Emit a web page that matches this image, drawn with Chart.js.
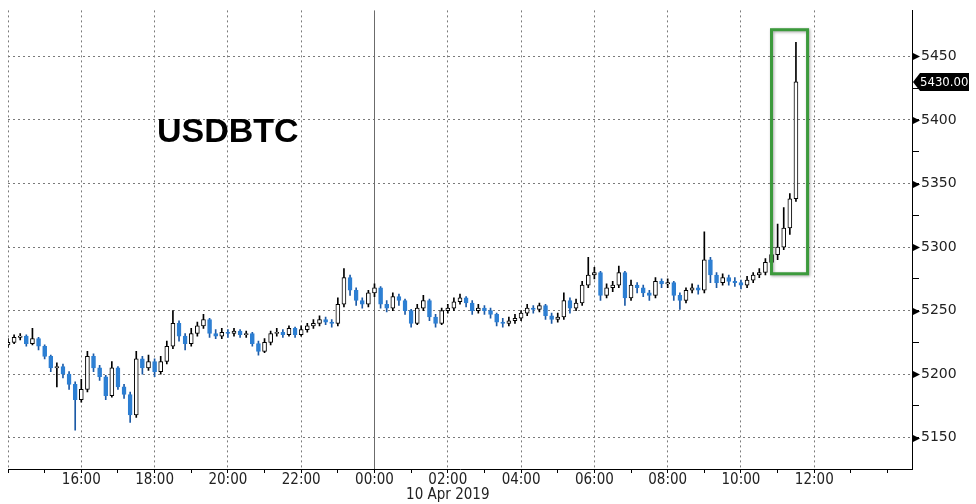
<!DOCTYPE html>
<html>
<head>
<meta charset="utf-8">
<title>USDBTC</title>
<script src="https://cdn.jsdelivr.net/npm/chart.js@4/dist/chart.umd.min.js"></script>
<style>
  html, body { margin: 0; padding: 0; background: #fff; }
  #wrap { width: 976px; height: 504px; }
</style>
</head>
<body>
<div id="wrap"><canvas id="btcChart" width="976" height="504"></canvas></div>
<script>
// 10-minute slots from 14:00 on 9 Apr to 14:40 on 10 Apr 2019
const startHour = 14;
const slotMinutes = 10;
const slotCount = 149;

const hourLabels = ['16:00', '18:00', '20:00', '22:00', '00:00', '02:00',
                    '04:00', '06:00', '08:00', '10:00', '12:00'];
const dateLabel = '10 Apr 2019';
const chartTitle = 'USDBTC';
const lastPrice = 5430.00;

// candles (open of each candle = previous close)
const firstOpen = 5223;
const closes = [
  5225, 5229, 5230, 5224, 5228, 5222, 5214, 5205, 5206, 5200,
  5192, 5180, 5188, 5214, 5205, 5198, 5183, 5205, 5190, 5184,
  5168, 5212, 5205, 5210, 5202, 5210, 5222, 5240, 5230, 5224,
  5232, 5238, 5243, 5232, 5230, 5233, 5232, 5234, 5231, 5232,
  5224, 5218, 5225, 5232, 5233, 5231, 5236, 5231, 5235, 5238,
  5240, 5243, 5241, 5240, 5255, 5276, 5266, 5258, 5255, 5264,
  5268, 5255, 5252, 5261, 5258, 5250, 5240, 5252, 5258, 5245,
  5240, 5250, 5252, 5257, 5260, 5256, 5250, 5252, 5250, 5247,
  5241, 5240, 5242, 5244, 5248, 5252, 5251, 5254, 5246, 5243,
  5245, 5258, 5252, 5256, 5270, 5278, 5280, 5262, 5268, 5270,
  5280, 5260, 5270, 5268, 5264, 5262, 5273, 5271, 5272, 5262,
  5258, 5266, 5268, 5266, 5290, 5278, 5272, 5276, 5273, 5272,
  5270, 5274, 5278, 5280, 5288, 5294, 5300, 5315, 5338, 5430
];
const highs = [
  5228, 5231, 5232, 5231, 5236, 5229, 5223, 5215, 5209, 5208,
  5202, 5194, 5196, 5218, 5216, 5207, 5199, 5210, 5206, 5192,
  5186, 5218, 5214, 5215, 5212, 5214, 5226, 5250, 5242, 5232,
  5236, 5241, 5247, 5244, 5235, 5236, 5235, 5236, 5235, 5234,
  5233, 5226, 5228, 5234, 5236, 5235, 5238, 5237, 5238, 5240,
  5243, 5246, 5245, 5243, 5260, 5283, 5278, 5268, 5260, 5266,
  5271, 5269, 5258, 5264, 5263, 5259, 5251, 5255, 5262, 5259,
  5247, 5252, 5255, 5260, 5263, 5261, 5258, 5255, 5254, 5252,
  5248, 5244, 5245, 5247, 5250, 5255, 5254, 5256, 5255, 5248,
  5248, 5264, 5260, 5259, 5273, 5292, 5284, 5281, 5271, 5273,
  5285, 5281, 5274, 5272, 5270, 5266, 5276, 5275, 5275, 5273,
  5264, 5268, 5271, 5270, 5312, 5292, 5280, 5279, 5278, 5276,
  5274, 5277, 5280, 5283, 5291, 5298, 5318, 5331, 5342, 5461
];
const lows = [
  5221, 5224, 5227, 5222, 5223, 5219, 5212, 5202, 5190, 5197,
  5188, 5156, 5178, 5186, 5202, 5195, 5180, 5182, 5188, 5181,
  5162, 5166, 5200, 5203, 5198, 5200, 5208, 5220, 5226, 5219,
  5222, 5230, 5236, 5229, 5228, 5228, 5229, 5230, 5229, 5229,
  5222, 5215, 5217, 5223, 5230, 5229, 5230, 5229, 5230, 5233,
  5236, 5238, 5239, 5237, 5238, 5253, 5262, 5254, 5252, 5253,
  5261, 5252, 5249, 5250, 5254, 5247, 5237, 5239, 5250, 5242,
  5237, 5239, 5248, 5250, 5255, 5253, 5247, 5248, 5247, 5244,
  5238, 5237, 5238, 5240, 5242, 5246, 5248, 5249, 5243, 5240,
  5241, 5243, 5248, 5250, 5254, 5268, 5275, 5258, 5260, 5265,
  5268, 5254, 5258, 5264, 5261, 5258, 5260, 5268, 5268, 5258,
  5251, 5256, 5264, 5263, 5264, 5272, 5268, 5270, 5270, 5269,
  5267, 5268, 5272, 5276, 5278, 5286, 5290, 5298, 5310, 5336
];

// highlighted window (slot indexes) and its price band
const boxSlots = [125, 130.9];
const boxPrices = [5279, 5471];

const upFill = '#ffffff';
const upLine = '#000000';
const downFill = '#2d7fd3';
const downLine = '#1c5aa6';
const gridColor = '#7a7a7a';

function pad2(n) { return n < 10 ? '0' + n : '' + n; }

const slots = [];
for (let i = 0; i < slotCount; i++) {
  const m = startHour * 60 + i * slotMinutes;
  slots.push(pad2(Math.floor(m / 60) % 24) + ':' + pad2(m % 60));
}

const opens = closes.map((c, i) => (i === 0 ? firstOpen : closes[i - 1]));
const isUp = closes.map((c, i) => c >= opens[i]);
const wickData = closes.map((c, i) => [lows[i], highs[i]]);
const bodyData = closes.map((c, i) => [opens[i], c]);

function isMajorSlot(i) {
  return hourLabels.includes(slots[i]) || i === 0;
}

const decorations = {
  id: 'decorations',
  beforeDatasetsDraw(chart) {
    const { ctx, chartArea, scales: { x } } = chart;
    const px = Math.round(x.getPixelForValue(slots.indexOf('00:00'))) + 0.5;
    ctx.save();
    ctx.strokeStyle = '#6b6b6b';
    ctx.lineWidth = 1;
    ctx.beginPath();
    ctx.moveTo(px, chartArea.top);
    ctx.lineTo(px, chartArea.bottom);
    ctx.stroke();
    ctx.restore();
  },
  afterDraw(chart) {
    const { ctx, chartArea, scales: { x, y } } = chart;
    ctx.save();

    // title inside the plot
    ctx.fillStyle = '#000';
    ctx.font = 'bold 34px "Liberation Sans", Arial, sans-serif';
    ctx.textAlign = 'left';
    ctx.textBaseline = 'alphabetic';
    ctx.fillText(chartTitle, 157, 142);

    // green highlight box
    const bx1 = x.getPixelForValue(boxSlots[0]);
    const bx2 = x.getPixelForValue(boxSlots[1]);
    const by1 = y.getPixelForValue(boxPrices[1]);
    const by2 = y.getPixelForValue(boxPrices[0]);
    ctx.shadowColor = 'rgba(0,0,0,0.35)';
    ctx.shadowBlur = 3;
    ctx.shadowOffsetX = 1;
    ctx.shadowOffsetY = 1;
    ctx.strokeStyle = '#3c9a3c';
    ctx.lineWidth = 3;
    ctx.strokeRect(bx1, by1, bx2 - bx1, by2 - by1);
    ctx.shadowColor = 'transparent';

    // arrow heads on the major y ticks
    const ax = chartArea.right;
    ctx.fillStyle = '#000';
    y.ticks.forEach(t => {
      if (t.value % 50 !== 0) return;
      const ty = Math.round(y.getPixelForValue(t.value)) + 0.5;
      ctx.beginPath();
      ctx.moveTo(ax, ty - 4);
      ctx.lineTo(ax + 8, ty);
      ctx.lineTo(ax, ty + 4);
      ctx.closePath();
      ctx.fill();
    });

    // last price tag
    const py = Math.round(y.getPixelForValue(lastPrice));
    ctx.beginPath();
    ctx.moveTo(ax + 1, py);
    ctx.lineTo(ax + 8, py - 9);
    ctx.lineTo(ax + 57, py - 9);
    ctx.lineTo(ax + 57, py + 9);
    ctx.lineTo(ax + 8, py + 9);
    ctx.closePath();
    ctx.fill();
    ctx.fillStyle = '#fff';
    ctx.font = '13px "DejaVu Sans Condensed", "DejaVu Sans", sans-serif';
    ctx.textBaseline = 'middle';
    ctx.fillText(lastPrice.toFixed(2), ax + 8, py + 1);

    ctx.restore();
  }
};

const ctx = document.getElementById('btcChart').getContext('2d');
new Chart(ctx, {
  type: 'bar',
  data: {
    labels: slots,
    datasets: [
      {
        label: 'range',
        data: wickData,
        grouped: false,
        order: 2,
        barThickness: 1,
        borderWidth: 0,
        backgroundColor: isUp.map(u => (u ? upLine : downLine))
      },
      {
        label: 'body',
        data: bodyData,
        grouped: false,
        order: 1,
        barThickness: 4,
        minBarLength: 1,
        borderWidth: 1,
        borderSkipped: false,
        backgroundColor: isUp.map(u => (u ? upFill : downFill)),
        borderColor: isUp.map(u => (u ? upLine : downFill))
      }
    ]
  },
  options: {
    responsive: false,
    animation: false,
    layout: { padding: { left: 8, top: 0, right: 0, bottom: 0 } },
    plugins: {
      legend: { display: false },
      tooltip: { enabled: false }
    },
    scales: {
      x: {
        type: 'category',
        offset: false,
        afterFit: s => { s.height = 35; },
        ticks: {
          autoSkip: false,
          maxRotation: 0,
          minRotation: 0,
          padding: 0,
          color: '#222',
          font: { family: '"Liberation Sans Narrow", "DejaVu Sans Condensed", sans-serif', size: 15, lineHeight: 1.0 },
          callback: (v, i) => {
            const lbl = slots[i];
            if (!hourLabels.includes(lbl)) return '';
            return lbl === '02:00' ? [lbl, dateLabel] : lbl;
          }
        },
        grid: {
          offset: false,
          lineWidth: 1,
          tickLength: 4,
          color: c => (isMajorSlot(c.index) && slots[c.index] !== '00:00' ? gridColor : 'rgba(0,0,0,0)'),
          tickColor: c => (slots[c.index] && slots[c.index].endsWith(':00') ? '#000' : 'rgba(0,0,0,0)')
        },
        border: { display: true, color: '#000', width: 1, dash: [2, 3] }
      },
      y: {
        position: 'right',
        min: 5125.4,
        max: 5486.2,
        afterBuildTicks: s => { s.ticks = s.ticks.filter(t => t.value % 25 === 0); },
        afterFit: s => { s.width = 64; },
        ticks: {
          stepSize: 25,
          padding: 2,
          color: '#222',
          font: { family: '"DejaVu Sans", sans-serif', size: 14 },
          callback: v => (v % 50 === 0 ? String(v) : '')
        },
        grid: {
          lineWidth: 1,
          tickLength: 7,
          color: c => (c.tick && c.tick.value % 50 === 0 ? gridColor : 'rgba(0,0,0,0)'),
          tickColor: '#000'
        },
        border: { display: true, color: '#000', width: 1, dash: [2, 3] }
      }
    }
  },
  plugins: [decorations]
});
</script>
</body>
</html>
